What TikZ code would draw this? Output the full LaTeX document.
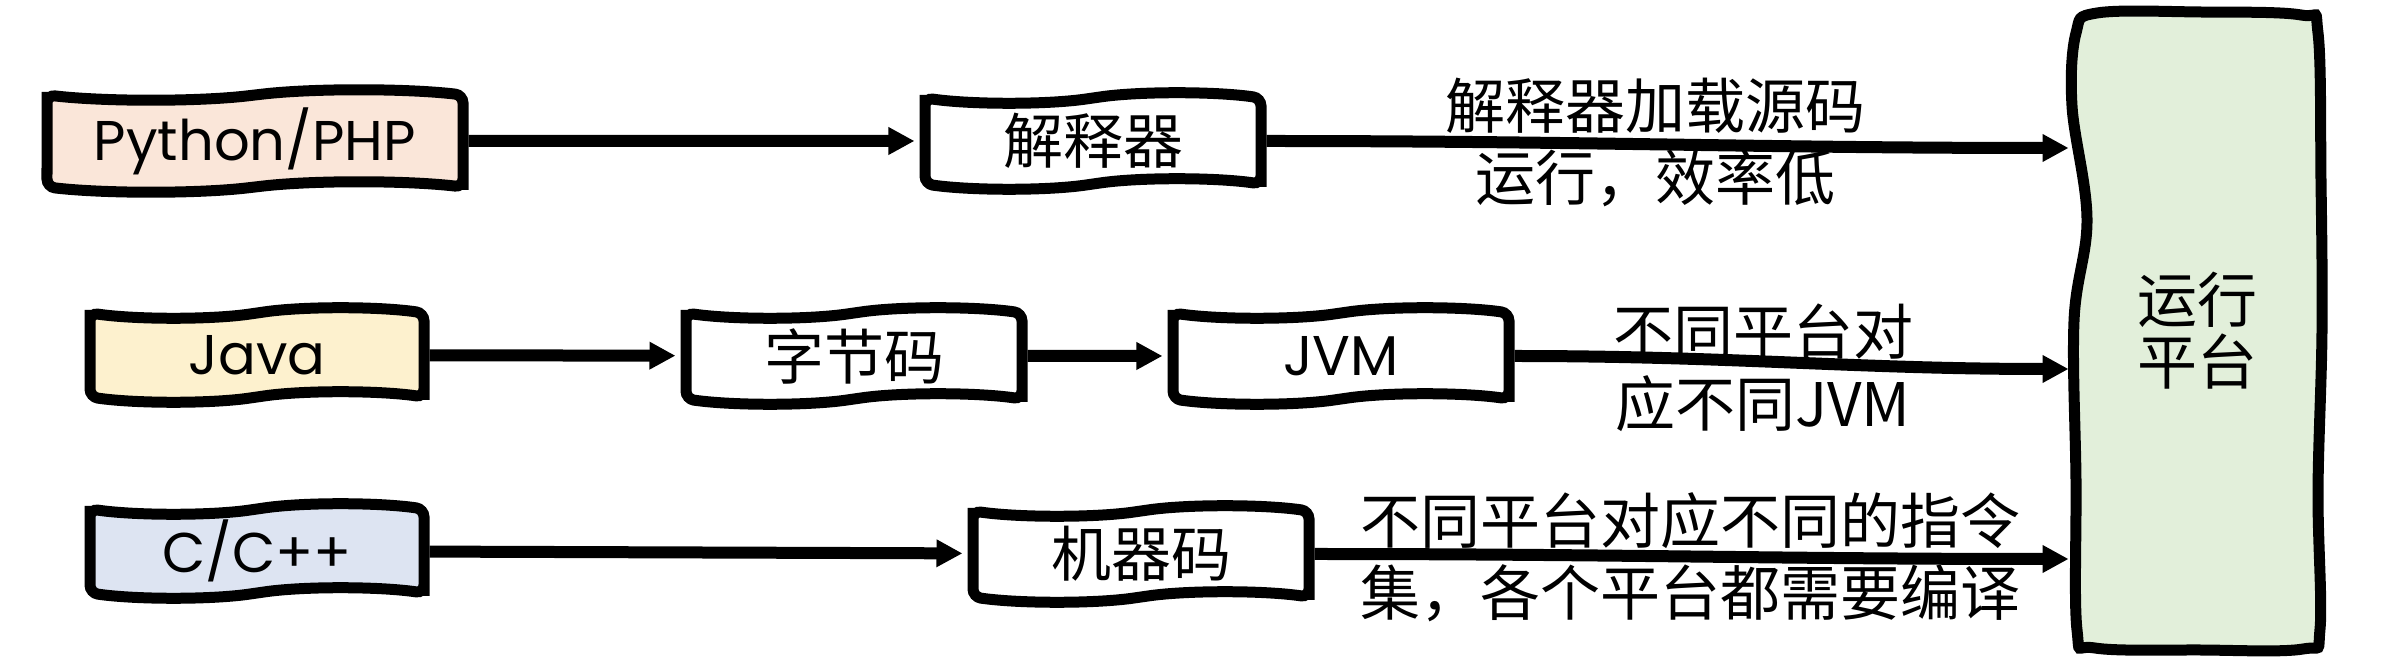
\documentclass[tikz,border=0pt]{standalone}
\usepackage{fontspec}
\setmainfont{Noto Sans CJK SC}
\newfontfamily\comicf{Poppins}
\usetikzlibrary{shapes.symbols,arrows.meta,calc}
\definecolor{pyfill}{HTML}{FAE6D9}
\definecolor{javafill}{HTML}{FDF1CE}
\definecolor{cfill}{HTML}{DDE4F2}
\definecolor{platfill}{HTML}{E2EFDA}
\begin{document}
\begin{tikzpicture}[x=0.5pt,y=-0.5pt,
  wbox/.style={tape, draw=black, line width=5.5pt, fill=white, inner sep=0pt,
    minimum width=168pt, minimum height=48pt, tape bend height=5pt,
    rounded corners=4pt, font=\fontsize{30}{36}\selectfont},
  latin/.style={font=\comicf\fontsize{28}{32}\selectfont},
  platline/.style={draw=black, line width=5.5pt, fill=platfill},
  arr/.style={line width=6pt, shorten >=2.5pt, -{Triangle[length=13pt,width=13pt]}},
  lbl/.style={align=center, inner sep=0pt, font=\fontsize{30}{36}\selectfont}]
\useasboundingbox (0,0) rectangle (2388,672);
% boxes
\node[wbox, latin, fill=pyfill, minimum width=208pt, minimum height=51pt] (py) at (255,141) {Python/PHP};
\node[wbox] (interp) at (1093,141) {解释器};
\node[wbox, latin, fill=javafill, minimum width=167pt, minimum height=47pt] (java) at (257,355) {Java};
\node[wbox] (bc) at (854,356) {字节码};
\node[wbox, latin] (jvm) at (1341,356) {JVM};
\node[wbox, latin, fill=cfill, minimum width=167pt, minimum height=47pt] (c) at (257,551) {C/C++};
\node[wbox] (mc) at (1141,554) {机器码};
% platform frame (invisible anchor box + hand-drawn outline)
\node[rectangle, inner sep=0pt, minimum width=123pt, minimum height=317.5pt] (plat) at (2197,331) {};
\draw[platline] plot[smooth cycle, tension=0.6] coordinates {
  ($(plat)+(-100,-318)$) ($(plat)+(3,-319)$) ($(plat)+(104,-316)$) ($(plat)+(121,-298)$)
  ($(plat)+(124,-150)$) ($(plat)+(125,0)$) ($(plat)+(121,160)$) ($(plat)+(123,298)$)
  ($(plat)+(106,318)$) ($(plat)+(3,319)$) ($(plat)+(-102,317)$) ($(plat)+(-120,299)$)
  ($(plat)+(-121,150)$) ($(plat)+(-123,-10)$) ($(plat)+(-110,-112)$)
  ($(plat)+(-125,-225)$) ($(plat)+(-121,-298)$)};
\node[align=center, inner sep=0pt, font=\fontsize{30}{31}\selectfont] (plattext) at (plat) {运行\\平台};
% end points on the platform edge
\coordinate (e1) at ($(interp.east -| plat.west)+(0,7)$);
\coordinate (e2) at ($(jvm.east -| plat.west)+(0,13)$);
\coordinate (e3) at ($(mc.east -| plat.west)+(0,5)$);
% connectors
\draw[arr] (py) -- (interp);
\draw[arr] (interp.east) to[out=0,in=180] (e1);
\draw[arr] (java) -- (bc);
\draw[arr] (bc) -- (jvm);
\draw[arr] (jvm.east) to[out=0,in=180] (e2);
\draw[arr] (c) -- (mc);
\draw[arr] (mc.east) to[out=0,in=180] (e3);
% labels
\node[lbl] (l1) at (1655,142) {解释器加载源码\\运行，效率低};
\node[lbl] (l2) at (1763,368) {不同平台对\\应不同JVM};
\node[lbl] (l3) at (1690,557) {不同平台对应不同的指令\\集，各个平台都需要编译};
\end{tikzpicture}
\end{document}
